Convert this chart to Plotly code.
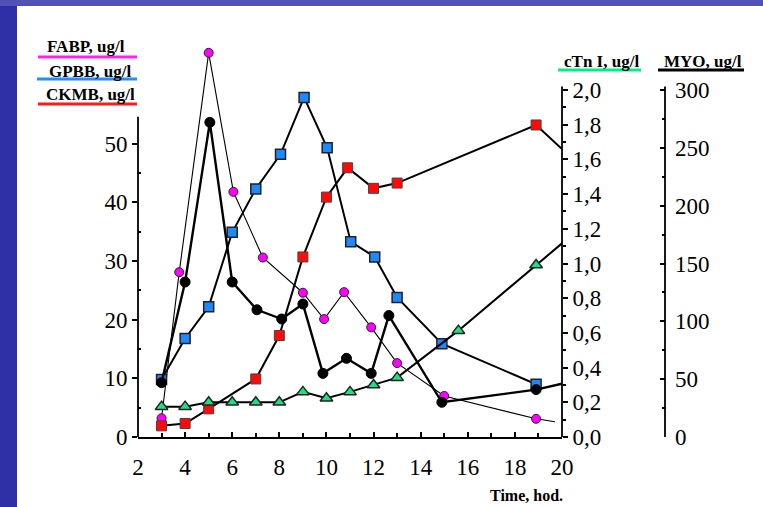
import plotly.graph_objects as go

# ---- data ----
fabp_t = [3, 3.75, 5, 6.05, 7.3, 9, 9.9, 10.75, 11.9, 13, 15, 18.9, 19.7]
fabp_v = [3.2, 28.1, 65.5, 41.8, 30.6, 24.6, 20.1, 24.7, 18.7, 12.6, 7.0, 3.1, 2.6]
fabp_show = [1, 1, 1, 1, 1, 1, 1, 1, 1, 1, 1, 1, 0]

gpbb_t = [3, 4, 5, 6, 7, 8.05, 9.05, 10.03, 11.03, 12.05, 13, 14.9, 18.9]
gpbb_v = [9.8, 16.8, 22.2, 34.9, 42.3, 48.2, 57.9, 49.3, 33.3, 30.7, 23.8, 15.9, 9.0]

ckmb_t = [3, 4, 5, 7, 8, 9, 10, 10.9, 12, 13, 18.9, 20]
ckmb_v = [1.9, 2.3, 4.8, 9.9, 17.3, 30.7, 40.9, 45.9, 42.4, 43.3, 53.2, 49.1]
ckmb_show = [1, 1, 1, 1, 1, 1, 1, 1, 1, 1, 1, 0]

ctn_t = [3, 4, 5, 6, 7, 8, 9, 10, 11, 12, 13, 15.6, 18.9, 20]
ctn_v = [0.175, 0.175, 0.20, 0.20, 0.20, 0.20, 0.26, 0.223, 0.26, 0.30, 0.342, 0.613, 0.991, 1.116]
ctn_show = [1] * 13 + [0]

myo_t = [3, 4, 5.05, 6, 7.05, 8.1, 9, 9.85, 10.85, 11.9, 12.65, 14.9, 18.9, 20]
myo_v = [47, 134, 272, 134, 110, 102, 115, 55, 68, 55, 105, 30, 41, 46]
myo_show = [1] * 13 + [0]

x_ticks = [2, 4, 6, 8, 10, 12, 14, 16, 18, 20]
left_ticks = [0, 10, 20, 30, 40, 50]
ctn_ticks = [0.0, 0.2, 0.4, 0.6, 0.8, 1.0, 1.2, 1.4, 1.6, 1.8, 2.0]
ctn_labels = ["0,0", "0,2", "0,4", "0,6", "0,8", "1,0", "1,2", "1,4", "1,6", "1,8", "2,0"]
myo_ticks = [0, 50, 100, 150, 200, 250, 300]

# ---- layout geometry (pixels) ----
W, H = 763, 507
PL, PR_plot, PR_paper, PT, PB = 138, 562, 665, 45, 437
pw = PR_paper - PL
ph = PB - PT
dom_end = (PR_plot - PL) / pw

def px(x):
    return (x - PL) / pw

def py(y):
    return (PB - y) / ph

left_max = (PB - PT) / 5.865
ctn_max = (PB - PT) / 173.5
myo_max = (PB - PT) / 1.1567

SERIF = "Liberation Serif, Times New Roman, serif"
EDGE = "#222222"

fig = go.Figure()

fig.add_trace(go.Scatter(
    x=myo_t, y=myo_v, yaxis="y3", mode="lines+markers",
    line=dict(color="black", width=2.4),
    marker=dict(symbol="circle", size=[10 * s for s in myo_show], color="black", opacity=1,
                line=dict(color="black", width=1)),
    showlegend=False))

fig.add_trace(go.Scatter(
    x=fabp_t, y=fabp_v, yaxis="y", mode="lines+markers",
    line=dict(color="black", width=1.1),
    marker=dict(symbol="circle", size=[9 * s for s in fabp_show], color="#ff00ff", opacity=1,
                line=dict(color=EDGE, width=1)),
    showlegend=False))

fig.add_trace(go.Scatter(
    x=ctn_t, y=ctn_v, yaxis="y2", mode="lines+markers",
    line=dict(color="black", width=2),
    marker=dict(symbol="triangle-up", size=[11 * s for s in ctn_show], color="#1ee080", opacity=1,
                line=dict(color=EDGE, width=1.5)),
    showlegend=False))

fig.add_trace(go.Scatter(
    x=ckmb_t, y=ckmb_v, yaxis="y", mode="lines+markers",
    line=dict(color="black", width=2),
    marker=dict(symbol="square", size=[10 * s for s in ckmb_show], color="#ff0a0a", opacity=1,
                line=dict(color="#444444", width=1)),
    showlegend=False))

fig.add_trace(go.Scatter(
    x=gpbb_t, y=gpbb_v, yaxis="y", mode="lines+markers",
    line=dict(color="black", width=2),
    marker=dict(symbol="square", size=10, color="#1e88ff", opacity=1,
                line=dict(color=EDGE, width=1.5)),
    showlegend=False))

tickfont = dict(family=SERIF, size=23, color="black")

fig.update_layout(
    width=W, height=H,
    margin=dict(l=PL, r=W - PR_paper, t=PT, b=H - PB, pad=0),
    paper_bgcolor="white",
    plot_bgcolor="rgba(0,0,0,0)",
    showlegend=False,
    xaxis=dict(
        domain=[0, dom_end], range=[2, 20], tickvals=x_ticks,
        ticks="inside", ticklen=5, tickwidth=1.5, tickcolor="black",
        minor=dict(dtick=1, tick0=2, ticks="inside", ticklen=4, tickwidth=1.5, tickcolor="black"),
        showline=True, linecolor="black", linewidth=1.8,
        showgrid=False, zeroline=False, tickfont=tickfont, ticklabelstandoff=8),
    yaxis=dict(
        range=[0, left_max], tickvals=left_ticks,
        ticks="outside", ticklen=5, tickwidth=1.5, tickcolor="black",
        minor=dict(tickmode="array", tickvals=[5, 15, 25, 35, 45], ticks="inside",
                   ticklen=3, tickwidth=1.5, tickcolor="black"),
        showline=False, showgrid=False, zeroline=False, tickfont=tickfont),
    yaxis2=dict(
        range=[0, ctn_max], overlaying="y", anchor="free", position=dom_end, side="right",
        tickvals=ctn_ticks, ticktext=ctn_labels,
        ticks="outside", ticklen=5, tickwidth=1.5, tickcolor="black",
        minor=dict(tickmode="array", tickvals=[0.1, 0.3, 0.5, 0.7, 0.9, 1.1, 1.3, 1.5, 1.7, 1.9],
                   ticks="outside", ticklen=3, tickwidth=1.5, tickcolor="black"),
        showline=False, showgrid=False, zeroline=False, tickfont=tickfont),
    yaxis3=dict(
        range=[0, myo_max], overlaying="y", anchor="free", position=1.0, side="right",
        tickvals=myo_ticks,
        ticks="inside", ticklen=5, tickwidth=1.5, tickcolor="black",
        minor=dict(tickmode="array", tickvals=[25, 75, 125, 175, 225, 275], ticks="inside",
                   ticklen=3, tickwidth=1.5, tickcolor="black"),
        showline=False, showgrid=False, zeroline=False, tickfont=tickfont,
        ticklabelstandoff=9),
)

shapes = []
# blue slide border (left strip and top strip)
shapes.append(dict(type="rect", xref="paper", yref="paper", x0=px(0), x1=px(17), y0=py(H), y1=py(0),
                   fillcolor="#3030a6", line=dict(width=0), layer="below"))
shapes.append(dict(type="rect", xref="paper", yref="paper", x0=px(0), x1=px(W), y0=py(6), y1=py(0),
                   fillcolor="#5252b6", line=dict(width=0), layer="below"))
# axis lines
shapes.append(dict(type="line", xref="paper", yref="y", x0=0, x1=0, y0=0, y1=54.6,
                   line=dict(color="black", width=1.8)))
shapes.append(dict(type="line", xref="paper", yref="y2", x0=dom_end, x1=dom_end, y0=0, y1=2.02,
                   line=dict(color="black", width=1.8)))
shapes.append(dict(type="line", xref="paper", yref="y3", x0=1, x1=1, y0=0, y1=303,
                   line=dict(color="black", width=1.8)))
# title underlines
def uline(x0, x1, y, color, w=3):
    shapes.append(dict(type="line", xref="paper", yref="paper", x0=px(x0), x1=px(x1),
                       y0=py(y), y1=py(y), line=dict(color=color, width=w)))
uline(38, 137, 57, "#ff22ee")
uline(37, 137, 79, "#1e90ff")
uline(38, 137, 104, "#ff1a1a")
uline(558, 641, 70, "#00ee88")
uline(658, 744, 70, "black")
fig.update_layout(shapes=shapes)

def label(text, cx, cy, size=17):
    fig.add_annotation(text="<b>" + text + "</b>", xref="paper", yref="paper",
                       x=px(cx), y=py(cy), xanchor="center", yanchor="middle",
                       showarrow=False, font=dict(family=SERIF, size=size, color="black"))

label("FABP, ug/l", 86, 47)
label("GPBB, ug/l", 90, 71)
label("CKMB, ug/l", 90, 94)
label("cTn I, ug/l", 601, 61)
label("MYO, ug/l", 703, 61)
label("Time, hod.", 526, 495, size=16)

fig.write_html("out.html")
